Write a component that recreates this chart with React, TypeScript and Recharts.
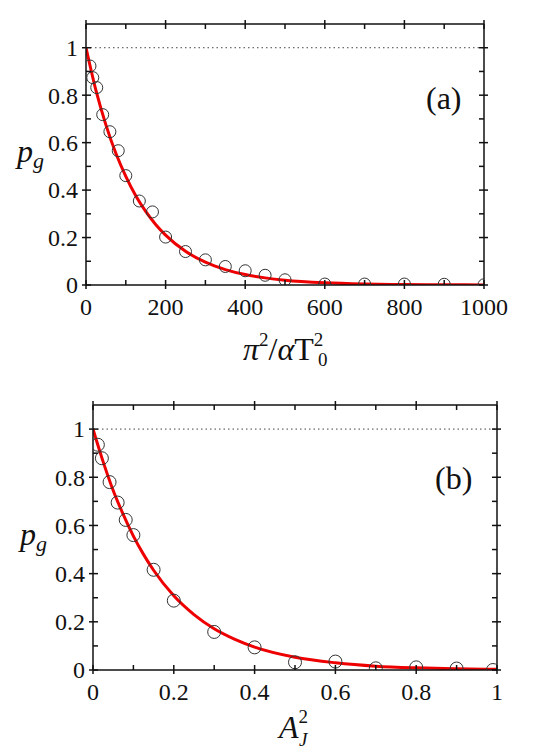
import React from "react";
import { ComposedChart, Line, Scatter, XAxis, YAxis, ReferenceLine } from "recharts";

// panel (a): p_g versus pi^2 / (alpha T0^2)
const aPointX = [10, 17, 27, 42, 60, 81, 100, 134, 167, 200, 250, 300, 350, 400, 450, 500, 600, 700, 800, 900, 1000];
const aPointY = [0.923, 0.874, 0.832, 0.718, 0.646, 0.566, 0.461, 0.354, 0.308, 0.202, 0.141, 0.106, 0.078, 0.06, 0.041, 0.022, 0.004, 0.004, 0.004, 0.003, 0.001];
const aCurveX = [0, 25, 50, 75, 100, 125, 150, 175, 200, 250, 300, 350, 400, 450, 500, 600, 700, 800, 900, 1000];
const aCurveY = [1, 0.82, 0.675, 0.555, 0.458, 0.376, 0.31, 0.255, 0.21, 0.142, 0.096, 0.065, 0.044, 0.03, 0.02, 0.009, 0.004, 0.002, 0.001, 0.0005];
const aXMajor = [0, 200, 400, 600, 800, 1000];
const aXMinor = [100, 300, 500, 700, 900];

// panel (b): p_g versus A_J^2
const bPointX = [0.012, 0.022, 0.041, 0.061, 0.081, 0.1, 0.15, 0.2, 0.3, 0.4, 0.5, 0.6, 0.7, 0.8, 0.9, 0.99];
const bPointY = [0.935, 0.879, 0.78, 0.695, 0.623, 0.56, 0.416, 0.288, 0.158, 0.094, 0.032, 0.035, 0.007, 0.011, 0.006, 0.0];
const bCurveX = [0, 0.025, 0.05, 0.075, 0.1, 0.125, 0.15, 0.2, 0.25, 0.3, 0.35, 0.4, 0.5, 0.6, 0.7, 0.8, 0.9, 1.0];
const bCurveY = [1, 0.865, 0.745, 0.645, 0.556, 0.48, 0.414, 0.308, 0.23, 0.171, 0.128, 0.095, 0.053, 0.03, 0.016, 0.009, 0.005, 0.003];
const bXMajor = [0, 0.2, 0.4, 0.6, 0.8, 1];
const bXMinor = [0.1, 0.3, 0.5, 0.7, 0.9];

const yMajor = [0, 0.2, 0.4, 0.6, 0.8, 1];
const yMinor = [0.1, 0.3, 0.5, 0.7, 0.9];

const SERIF = { fontFamily: "'Liberation Serif', serif" };

type Side = "bottom" | "top" | "left" | "right";

function makeTick(side: Side, majors: number[], showLabel: boolean) {
  return (props: any) => {
    const { x, y, payload } = props;
    const v = payload.value as number;
    const major = majors.some((m) => Math.abs(m - v) < 1e-9);
    const inner = 5;
    const outer = major ? 4 : 0;
    let line;
    if (side === "bottom") line = <line x1={x} x2={x} y1={y + outer} y2={y - inner} />;
    else if (side === "top") line = <line x1={x} x2={x} y1={y - outer} y2={y + inner} />;
    else if (side === "left") line = <line x1={x - outer} x2={x + inner} y1={y} y2={y} />;
    else line = <line x1={x + outer} x2={x - inner} y1={y} y2={y} />;
    let label = null;
    if (showLabel && major) {
      const txt = String(v);
      if (side === "bottom")
        label = (
          <text x={x} y={y + 30} textAnchor="middle" fontSize={24} style={SERIF} fill="#111" stroke="none">
            {txt}
          </text>
        );
      else
        label = (
          <text x={x - 8} y={y} dy="0.35em" textAnchor="end" fontSize={24} style={SERIF} fill="#111" stroke="none">
            {txt}
          </text>
        );
    }
    return (
      <g stroke="#111" strokeWidth={1.5}>
        {line}
        {label}
      </g>
    );
  };
}

const circle = (r: number) => (props: any) =>
  <circle cx={props.cx} cy={props.cy} r={r} fill="none" stroke="#333" strokeWidth={1} />;

interface PanelProps {
  pointX: number[];
  pointY: number[];
  curveX: number[];
  curveY: number[];
  xMajor: number[];
  xMinor: number[];
  xMax: number;
  margin: { top: number; left: number; right: number; bottom: number };
  height: number;
  r: number;
}

function Panel({ pointX, pointY, curveX, curveY, xMajor, xMinor, xMax, margin, height, r }: PanelProps) {
  const points = pointX.map((x, i) => ({ x, y: pointY[i] }));
  const curve = curveX.map((x, i) => ({ x, y: curveY[i] }));
  const xTicks = [...xMajor, ...xMinor].sort((a, b) => a - b);
  const yTicks = [...yMajor, ...yMinor].sort((a, b) => a - b);
  const axisLine = { stroke: "#111", strokeWidth: 1.5 };
  // every axis is 1px thick, so margins are the plot edges less 1
  const m = { top: margin.top - 1, left: margin.left - 1, right: margin.right - 1, bottom: margin.bottom - 1 };
  return (
    <ComposedChart width={556} height={height} margin={m}>
      <XAxis xAxisId="b" dataKey="x" type="number" domain={[0, xMax]} ticks={xTicks} interval={0} height={1}
        tickSize={0} tickMargin={0} tickLine={false} axisLine={axisLine} tick={makeTick("bottom", xMajor, true)} allowDataOverflow />
      <XAxis xAxisId="t" orientation="top" dataKey="x" type="number" domain={[0, xMax]} ticks={xTicks} interval={0} height={1}
        tickSize={0} tickMargin={0} tickLine={false} axisLine={axisLine} tick={makeTick("top", xMajor, false)} allowDataOverflow />
      <YAxis yAxisId="l" type="number" domain={[0, 1.1]} ticks={yTicks} interval={0} width={1}
        tickSize={0} tickMargin={0} tickLine={false} axisLine={axisLine} tick={makeTick("left", yMajor, true)} allowDataOverflow />
      <YAxis yAxisId="r" orientation="right" type="number" domain={[0, 1.1]} ticks={yTicks} interval={0} width={1}
        tickSize={0} tickMargin={0} tickLine={false} axisLine={axisLine} tick={makeTick("right", yMajor, false)} allowDataOverflow />
      <ReferenceLine xAxisId="b" yAxisId="l" y={1} stroke="#444" strokeWidth={1} strokeDasharray="1.5 3" />
      <Line xAxisId="b" yAxisId="l" data={curve} dataKey="y" type="monotone" dot={false} stroke="#ee0000"
        strokeWidth={3} isAnimationActive={false} />
      <Scatter xAxisId="b" yAxisId="l" data={points} dataKey="y" shape={circle(r)} isAnimationActive={false} />
    </ComposedChart>
  );
}

export default function App() {
  return (
    <div style={{ position: "absolute", left: 0, top: 0, width: 556, height: 756, background: "#fff" }}>
      <div style={{ position: "absolute", left: 0, top: 0 }}>
        <Panel pointX={aPointX} pointY={aPointY} curveX={aCurveX} curveY={aCurveY} xMajor={aXMajor} xMinor={aXMinor}
          xMax={1000} height={380} margin={{ top: 24, left: 86, right: 72, bottom: 95 }} r={6} />
      </div>
      <div style={{ position: "absolute", left: 0, top: 380 }}>
        <Panel pointX={bPointX} pointY={bPointY} curveX={bCurveX} curveY={bCurveY} xMajor={bXMajor} xMinor={bXMinor}
          xMax={1} height={376} margin={{ top: 25, left: 93, right: 59, bottom: 86 }} r={6.5} />
      </div>
      <svg width={556} height={756} style={{ position: "absolute", left: 0, top: 0, pointerEvents: "none", ...SERIF }}
        fill="#111">
        {/* y labels */}
        <text x={17} y={162} fontSize={32}>
          <tspan fontStyle="italic">p</tspan>
          <tspan fontStyle="italic" fontSize={22} dy={6}>g</tspan>
        </text>
        <text x={20} y={545} fontSize={32}>
          <tspan fontStyle="italic">p</tspan>
          <tspan fontStyle="italic" fontSize={22} dy={6}>g</tspan>
        </text>
        {/* panel tags */}
        <text x={426} y={109} fontSize={32}>(a)</text>
        <text x={435} y={489} fontSize={32}>(b)</text>
        {/* x titles: sub and superscripts stacked */}
        <text x={243} y={360} fontSize={32}>
          <tspan fontStyle="italic">π</tspan>
          <tspan fontSize={19} dy={-14}>2</tspan>
          <tspan dy={14}>/</tspan>
          <tspan fontStyle="italic">α</tspan>
          <tspan>T</tspan>
          <tspan fontSize={19} dy={-14}>2</tspan>
        </text>
        <text x={318} y={366} fontSize={19}>0</text>
        <text x={279} y={738} fontSize={32}>
          <tspan fontStyle="italic">A</tspan>
          <tspan fontSize={19} dy={-15}>2</tspan>
        </text>
        <text x={299} y={746} fontSize={19} fontStyle="italic">J</text>
      </svg>
    </div>
  );
}
